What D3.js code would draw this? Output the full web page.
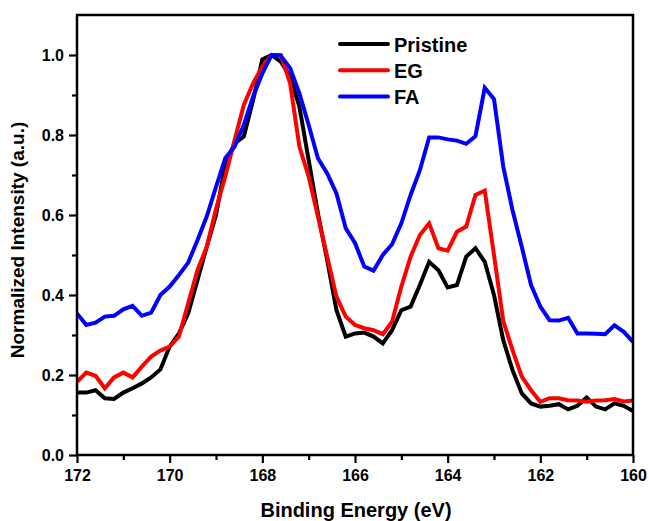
<!DOCTYPE html>
<html>
<head>
<meta charset="utf-8">
<script src="https://cdn.jsdelivr.net/npm/d3@7"></script>
<style>
  html, body { margin: 0; padding: 0; background: #fff; }
  svg { display: block; }
  text { font-family: Arial, "Liberation Sans", sans-serif; font-weight: bold; fill: #000; }
</style>
</head>
<body>
<svg id="chart" width="649" height="521"></svg>
<script>
// Binding energy grid: 172 -> 160 eV, step 0.2 eV (61 points)
const energies = d3.range(0, 61).map(k => +(172 - 0.2 * k).toFixed(1));

const pristine = [
  0.156, 0.156, 0.162, 0.142, 0.140, 0.156, 0.167, 0.179, 0.194, 0.214,
  0.271, 0.304, 0.354, 0.437, 0.520, 0.600, 0.725, 0.779, 0.796, 0.887,
  0.989, 1.000, 0.983, 0.946, 0.871, 0.737, 0.604, 0.487, 0.362, 0.296,
  0.304, 0.306, 0.296, 0.279, 0.312, 0.362, 0.371, 0.425, 0.483, 0.462,
  0.419, 0.425, 0.496, 0.517, 0.483, 0.400, 0.287, 0.212, 0.154, 0.129,
  0.121, 0.123, 0.127, 0.114, 0.123, 0.144, 0.121, 0.114, 0.129, 0.123,
  0.110
];

const eg = [
  0.183, 0.206, 0.198, 0.167, 0.194, 0.206, 0.194, 0.221, 0.246, 0.261,
  0.271, 0.296, 0.379, 0.462, 0.520, 0.615, 0.696, 0.787, 0.875, 0.929,
  0.971, 1.000, 1.000, 0.929, 0.771, 0.696, 0.596, 0.496, 0.396, 0.346,
  0.325, 0.317, 0.312, 0.302, 0.333, 0.421, 0.496, 0.550, 0.579, 0.517,
  0.511, 0.558, 0.571, 0.650, 0.661, 0.500, 0.335, 0.262, 0.196, 0.162,
  0.133, 0.142, 0.142, 0.137, 0.136, 0.133, 0.136, 0.137, 0.140, 0.134,
  0.136
];

const fa = [
  0.354, 0.325, 0.331, 0.346, 0.348, 0.364, 0.373, 0.348, 0.356, 0.400,
  0.421, 0.450, 0.481, 0.537, 0.596, 0.670, 0.742, 0.771, 0.825, 0.896,
  0.954, 1.000, 0.998, 0.967, 0.904, 0.825, 0.742, 0.704, 0.654, 0.567,
  0.530, 0.471, 0.461, 0.500, 0.527, 0.579, 0.650, 0.712, 0.794, 0.794,
  0.789, 0.786, 0.778, 0.797, 0.918, 0.890, 0.721, 0.612, 0.520, 0.425,
  0.371, 0.337, 0.336, 0.343, 0.304, 0.304, 0.303, 0.302, 0.324, 0.308,
  0.283
];

const seriesNames = ["Pristine", "EG", "FA"];
const seriesColors = ["#000000", "#ff0000", "#0000ff"];
const seriesValues = [pristine, eg, fa];

const xMajorTicks = [172, 170, 168, 166, 164, 162, 160];
const xMinorTicks = [171, 169, 167, 165, 163, 161];
const yMajorTicks = [0.0, 0.2, 0.4, 0.6, 0.8, 1.0];
const yMinorTicks = [0.1, 0.3, 0.5, 0.7, 0.9];

const xTitle = "Binding Energy (eV)";
const yTitle = "Normalized Intensity (a.u.)";

// ---- layout ----
const L = 77, R = 633, T = 15, B = 455;
const svg = d3.select("#chart");

const x = d3.scaleLinear().domain([172, 160]).range([L, R]);
const y = d3.scaleLinear().domain([0, 1.1]).range([B, T]);

svg.append("clipPath").attr("id", "clip")
  .append("rect").attr("x", L).attr("y", T).attr("width", R - L).attr("height", B - T);

// data lines
const line = d3.line().x(d => x(d[0])).y(d => y(d[1]));
const gLines = svg.append("g").attr("clip-path", "url(#clip)");
seriesValues.forEach((vals, i) => {
  gLines.append("path")
    .datum(energies.map((e, k) => [e, vals[k]]))
    .attr("d", line)
    .attr("fill", "none")
    .attr("stroke", seriesColors[i])
    .attr("stroke-width", 4)
    .attr("stroke-linejoin", "miter")
    .attr("stroke-miterlimit", 3);
});

// axes
const axisStroke = 2.5;
const xAxis = svg.append("g").attr("transform", `translate(0,${B})`)
  .call(d3.axisBottom(x).tickValues(xMajorTicks).tickFormat(d3.format("d")).tickSize(8).tickPadding(7));
const xAxisMinor = svg.append("g").attr("transform", `translate(0,${B})`)
  .call(d3.axisBottom(x).tickValues(xMinorTicks).tickFormat("").tickSize(5));
const yAxis = svg.append("g").attr("transform", `translate(${L},0)`)
  .call(d3.axisLeft(y).tickValues(yMajorTicks).tickFormat(d3.format(".1f")).tickSize(8).tickPadding(5));
const yAxisMinor = svg.append("g").attr("transform", `translate(${L},0)`)
  .call(d3.axisLeft(y).tickValues(yMinorTicks).tickFormat("").tickSize(5));

[xAxis, xAxisMinor, yAxis, yAxisMinor].forEach(g => {
  g.select(".domain").remove();
  g.selectAll(".tick line").attr("stroke", "#000").attr("stroke-width", 2.2);
  g.selectAll(".tick text").attr("font-size", 16).attr("font-weight", "bold")
    .attr("font-family", "Arial, 'Liberation Sans', sans-serif").attr("fill", "#000");
});

// frame
svg.append("rect")
  .attr("x", L).attr("y", T).attr("width", R - L).attr("height", B - T)
  .attr("fill", "none").attr("stroke", "#000").attr("stroke-width", axisStroke);

// axis titles
svg.append("text")
  .attr("x", 356).attr("y", 517)
  .attr("text-anchor", "middle")
  .attr("font-size", 20)
  .text(xTitle);

svg.append("text")
  .attr("transform", `translate(24,240) rotate(-90)`)
  .attr("text-anchor", "middle")
  .attr("font-size", 19)
  .text(yTitle);

// legend
const legend = svg.append("g");
seriesNames.forEach((name, i) => {
  const ly = 44 + i * 26.3;
  legend.append("line")
    .attr("x1", 340).attr("x2", 388).attr("y1", ly).attr("y2", ly)
    .attr("stroke", seriesColors[i]).attr("stroke-width", 4).attr("stroke-linecap", "round");
  legend.append("text")
    .attr("x", 394).attr("y", ly + 7.5)
    .attr("font-size", 20)
    .text(name);
});
</script>
</body>
</html>
